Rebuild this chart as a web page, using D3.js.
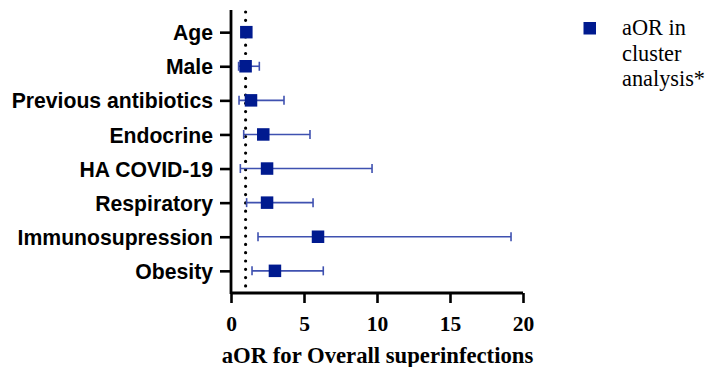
<!DOCTYPE html>
<html>
<head>
<meta charset="utf-8">
<script src="https://cdn.jsdelivr.net/npm/d3@7"></script>
<style>
  html, body { margin: 0; padding: 0; background: #fff; }
  svg { display: block; }
</style>
</head>
<body>
<svg id="chart" width="707" height="367"></svg>
<script>
// Risk factors and their adjusted odds ratios with 95% confidence intervals
const categories = ["Age", "Male", "Previous antibiotics", "Endocrine", "HA COVID-19",
                    "Respiratory", "Immunosupression", "Obesity"];
const aOR   = [1.05, 1.00, 1.37, 2.21, 2.47, 2.47, 5.96, 3.01];
const ciLow = [1.02, 0.52, 0.55, 0.87, 0.64, 1.07, 1.85, 1.44];
const ciHigh= [1.09, 1.94, 3.63, 5.41, 9.66, 5.62, 19.18, 6.32];
const xTicks = [0, 5, 10, 15, 20];
const refLine = 1;
const legendLines = ["aOR in", "cluster", "analysis*"];

const svg = d3.select("#chart");
const plotLeft = 231, plotRight = 523, plotTop = 10, plotBottom = 293;

const x = d3.scaleLinear().domain([0, 20]).range([plotLeft, plotRight]);
const y = d3.scalePoint().domain(categories).range([plotTop, plotBottom]).padding(0.65);

const markColor = "#001a8f";
const barColor = "#3f51b0";

// Reference line at aOR = 1 (dotted)
svg.append("line")
  .attr("x1", x(refLine)).attr("x2", x(refLine))
  .attr("y1", plotTop + 2).attr("y2", plotBottom)
  .attr("stroke", "#000").attr("stroke-width", 3.2)
  .attr("stroke-linecap", "round")
  .attr("stroke-dasharray", "0 8.3");

// Confidence interval bars with caps
const rows = categories.map((c, i) => ({ c, v: aOR[i], lo: ciLow[i], hi: ciHigh[i] }));
const g = svg.append("g");
rows.forEach(d => {
  const yy = y(d.c);
  g.append("line").attr("x1", x(d.lo)).attr("x2", x(d.hi)).attr("y1", yy).attr("y2", yy)
    .attr("stroke", barColor).attr("stroke-width", 1.6);
  [d.lo, d.hi].forEach(v => {
    g.append("line").attr("x1", x(v)).attr("x2", x(v)).attr("y1", yy - 4.5).attr("y2", yy + 4.5)
      .attr("stroke", barColor).attr("stroke-width", 1.6);
  });
});

// Point estimates
const ms = 12.5;
svg.append("g").selectAll("rect").data(rows).join("rect")
  .attr("x", d => x(d.v) - ms / 2)
  .attr("y", d => y(d.c) - ms / 2)
  .attr("width", ms).attr("height", ms)
  .attr("fill", markColor);

// Y axis
const yAxis = d3.axisLeft(y).tickSize(11).tickPadding(7);
const yg = svg.append("g").attr("transform", `translate(${plotLeft},0)`).call(yAxis);
yg.select(".domain").attr("d", `M0,${plotTop}V${plotBottom + 1}`).attr("stroke", "#000").attr("stroke-width", 2.8);
yg.selectAll(".tick line").attr("stroke", "#000").attr("stroke-width", 2.6);
yg.selectAll(".tick text")
  .attr("font-family", "'Liberation Sans', Arial, sans-serif")
  .attr("font-weight", "bold").attr("font-size", 21.2).attr("fill", "#000")
  .attr("dy", "0.36em");

// X axis
const xAxis = d3.axisBottom(x).tickValues(xTicks).tickSize(10).tickPadding(13);
const xg = svg.append("g").attr("transform", `translate(0,${plotBottom})`).call(xAxis);
xg.select(".domain").attr("d", `M${plotLeft},0H${plotRight}`).attr("stroke", "#000").attr("stroke-width", 2.8);
xg.selectAll(".tick line").attr("stroke", "#000").attr("stroke-width", 2.6);
xg.selectAll(".tick text")
  .attr("font-family", "'Liberation Serif', 'Times New Roman', serif")
  .attr("font-weight", "bold").attr("font-size", 21.5).attr("fill", "#000");

// X axis title
svg.append("text")
  .attr("x", (plotLeft + plotRight) / 2 + 0.5).attr("y", 363)
  .attr("text-anchor", "middle")
  .attr("font-family", "'Liberation Serif', 'Times New Roman', serif")
  .attr("font-weight", "bold").attr("font-size", 22.7)
  .text("aOR for Overall superinfections");

// Legend
svg.append("rect").attr("x", 583.5).attr("y", 22).attr("width", ms).attr("height", ms).attr("fill", markColor);
svg.append("text")
  .attr("font-family", "'Liberation Serif', 'Times New Roman', serif")
  .attr("font-size", 22.3).attr("fill", "#000")
  .selectAll("tspan").data(legendLines).join("tspan")
  .attr("x", 622).attr("y", (d, i) => 35 + i * 25.5)
  .text(d => d);
</script>
</body>
</html>
